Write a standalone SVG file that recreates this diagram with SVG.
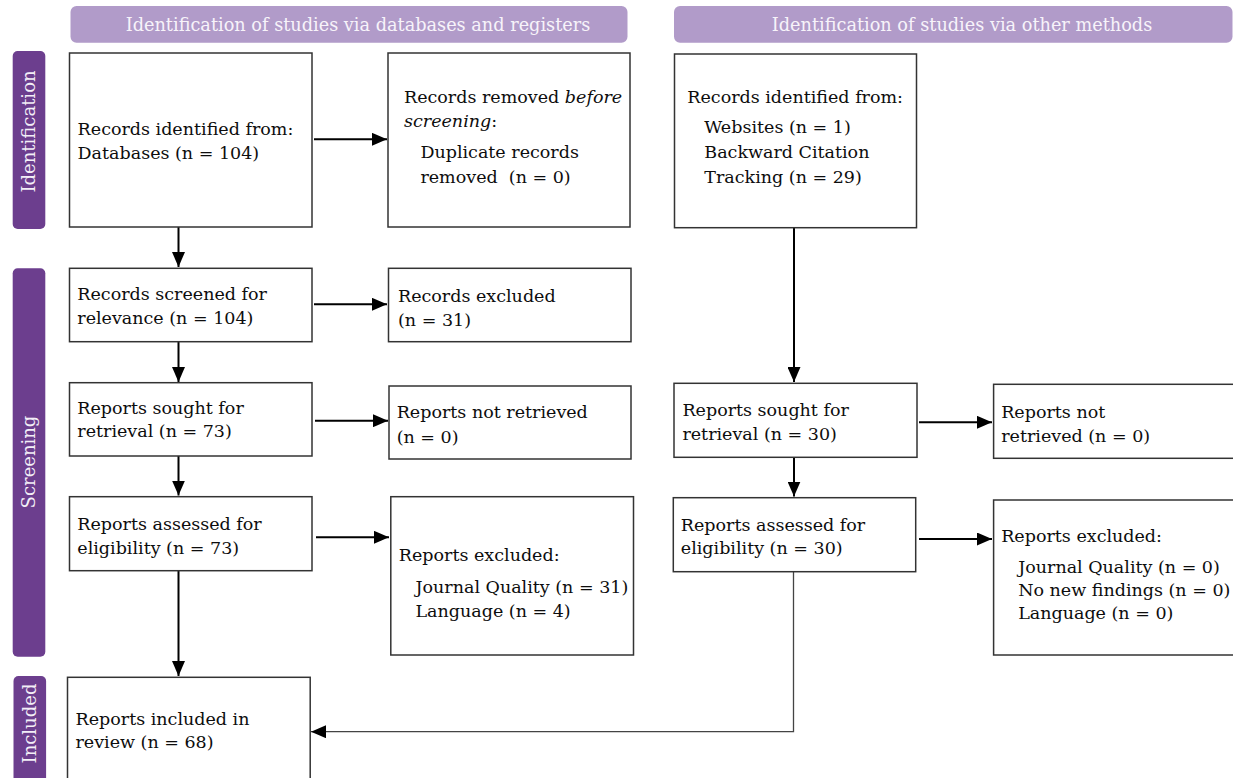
<svg xmlns="http://www.w3.org/2000/svg" width="1233" height="778" viewBox="0 0 1233 778">
<style>
  text { font-family: "DejaVu Serif", "Liberation Serif", serif; font-size: 17.5px; fill: #0d0d0d; }
  .box { fill: #ffffff; stroke: #333333; stroke-width: 1.5; }
  .hdr { fill: #b19bc9; }
  .hdrt { fill: #f7f3fa; font-size: 17.7px; text-anchor: middle; }
  .side { fill: #6c3e8e; }
  .sidet { fill: #f3eef7; font-size: 18px; text-anchor: middle; }
  .conn { stroke: #000000; stroke-width: 2; fill: none; }
  .thin { stroke: #444444; stroke-width: 1.3; fill: none; }
  .it { font-style: italic; }
</style>
<defs>
  <marker id="ah" markerUnits="userSpaceOnUse" markerWidth="15" markerHeight="13" refX="15" refY="6.5" orient="auto">
    <path d="M0,0 L15,6.5 L0,13 z" fill="#000000"/>
  </marker>
</defs>
<rect width="1233" height="778" fill="#ffffff"/>

<g id="header-databases">
  <rect class="hdr" x="70.5" y="6" width="557" height="36.7" rx="6"/>
  <text class="hdrt" x="358" y="30.5">Identification of studies via databases and registers</text>
</g>
<g id="header-other">
  <rect class="hdr" x="674" y="6" width="558.5" height="36.7" rx="6"/>
  <text class="hdrt" x="962" y="30.5">Identification of studies via other methods</text>
</g>

<g id="side-identification">
  <rect class="side" x="12.7" y="51" width="32.6" height="178" rx="5"/>
  <text class="sidet" transform="translate(35,131.5) rotate(-90)">Identification</text>
</g>
<g id="side-screening">
  <rect class="side" x="12.7" y="268.3" width="32.6" height="388.4" rx="5"/>
  <text class="sidet" transform="translate(35,462) rotate(-90)">Screening</text>
</g>
<g id="side-included">
  <rect class="side" x="13.5" y="676" width="32.6" height="130" rx="5"/>
  <text class="sidet" transform="translate(36,723.5) rotate(-90)">Included</text>
</g>

<g id="connectors">
  <line class="conn" x1="178.5" y1="227" x2="178.5" y2="267" marker-end="url(#ah)"/>
  <line class="conn" x1="314" y1="139.3" x2="387" y2="139.3" marker-end="url(#ah)"/>
  <line class="conn" x1="314" y1="304.3" x2="387" y2="304.3" marker-end="url(#ah)"/>
  <line class="conn" x1="178.5" y1="342" x2="178.5" y2="382" marker-end="url(#ah)"/>
  <line class="conn" x1="315" y1="420.7" x2="388" y2="420.7" marker-end="url(#ah)"/>
  <line class="conn" x1="178.5" y1="456" x2="178.5" y2="495.5" marker-end="url(#ah)"/>
  <line class="conn" x1="316" y1="537.3" x2="389" y2="537.3" marker-end="url(#ah)"/>
  <line class="conn" x1="178.5" y1="571" x2="178.5" y2="676" marker-end="url(#ah)"/>
  <line class="conn" x1="794" y1="228" x2="794" y2="382" marker-end="url(#ah)"/>
  <line class="conn" x1="919" y1="422.3" x2="992" y2="422.3" marker-end="url(#ah)"/>
  <line class="conn" x1="794" y1="457.3" x2="794" y2="496.5" marker-end="url(#ah)"/>
  <line class="conn" x1="919" y1="539" x2="992" y2="539" marker-end="url(#ah)"/>
  <polyline class="thin" points="793.5,571.7 793.5,731.7 311,731.7" marker-end="url(#ah)"/>
</g>

<g id="node-db-identified">
  <rect class="box" x="69.5" y="53" width="242.5" height="174"/>
  <text x="77.6" y="135">Records identified from:</text>
  <text x="77.6" y="159.3">Databases (n = 104)</text>
</g>
<g id="node-removed">
  <rect class="box" x="388" y="53" width="242" height="174"/>
  <text x="404" y="103.3">Records removed <tspan class="it">before</tspan></text>
  <text x="404" y="126.7"><tspan class="it">screening</tspan>:</text>
  <text x="420.4" y="158.3">Duplicate records</text>
  <text x="420.4" y="182.7">removed&#160; (n = 0)</text>
</g>
<g id="node-other-identified">
  <rect class="box" x="674.5" y="54" width="242" height="173.7"/>
  <text x="687.3" y="103.3">Records identified from:</text>
  <text x="704.3" y="133.3">Websites (n = 1)</text>
  <text x="704.3" y="158.3">Backward Citation</text>
  <text x="704.3" y="183.3">Tracking (n = 29)</text>
</g>
<g id="node-screened">
  <rect class="box" x="69.5" y="268.3" width="242.5" height="73.4"/>
  <text x="77.3" y="300">Records screened for</text>
  <text x="77.3" y="324.3">relevance (n = 104)</text>
</g>
<g id="node-excluded">
  <rect class="box" x="388.5" y="268.3" width="242.5" height="73.4"/>
  <text x="398" y="301.7">Records excluded</text>
  <text x="398" y="325.7">(n = 31)</text>
</g>
<g id="node-sought">
  <rect class="box" x="69.5" y="382.7" width="242.5" height="73.3"/>
  <text x="77.3" y="414">Reports sought for</text>
  <text x="77.3" y="437.3">retrieval (n = 73)</text>
</g>
<g id="node-not-retrieved">
  <rect class="box" x="389" y="386" width="242" height="73"/>
  <text x="396.7" y="418.3">Reports not retrieved</text>
  <text x="396.7" y="443.3">(n = 0)</text>
</g>
<g id="node-assessed">
  <rect class="box" x="69.5" y="496.7" width="242.5" height="74"/>
  <text x="77.3" y="530">Reports assessed for</text>
  <text x="77.3" y="554">eligibility (n = 73)</text>
</g>
<g id="node-reports-excluded">
  <rect class="box" x="390.8" y="496.7" width="242.7" height="158.3"/>
  <text x="398.8" y="561">Reports excluded:</text>
  <text x="415.5" y="592.7">Journal Quality (n = 31)</text>
  <text x="415.5" y="616.7">Language (n = 4)</text>
</g>
<g id="node-included">
  <rect class="box" x="67.5" y="677.3" width="242.7" height="130"/>
  <text x="75.5" y="725">Reports included in</text>
  <text x="75.5" y="748.3">review (n = 68)</text>
</g>
<g id="node-other-sought">
  <rect class="box" x="674" y="383.3" width="243" height="74"/>
  <text x="682.4" y="416">Reports sought for</text>
  <text x="682.4" y="440">retrieval (n = 30)</text>
</g>
<g id="node-other-not-retrieved">
  <rect class="box" x="993.6" y="384.3" width="260" height="74"/>
  <text x="1001.2" y="418.3">Reports not</text>
  <text x="1001.2" y="441.7">retrieved (n = 0)</text>
</g>
<g id="node-other-assessed">
  <rect class="box" x="673.3" y="497.7" width="242.4" height="74"/>
  <text x="680.8" y="530.7">Reports assessed for</text>
  <text x="680.8" y="554.3">eligibility (n = 30)</text>
</g>
<g id="node-other-excluded">
  <rect class="box" x="993.6" y="500" width="260" height="155"/>
  <text x="1001.2" y="541.7">Reports excluded:</text>
  <text x="1018.2" y="573.3">Journal Quality (n = 0)</text>
  <text x="1018.2" y="596">No new findings (n = 0)</text>
  <text x="1018.2" y="619.3">Language (n = 0)</text>
</g>
</svg>
